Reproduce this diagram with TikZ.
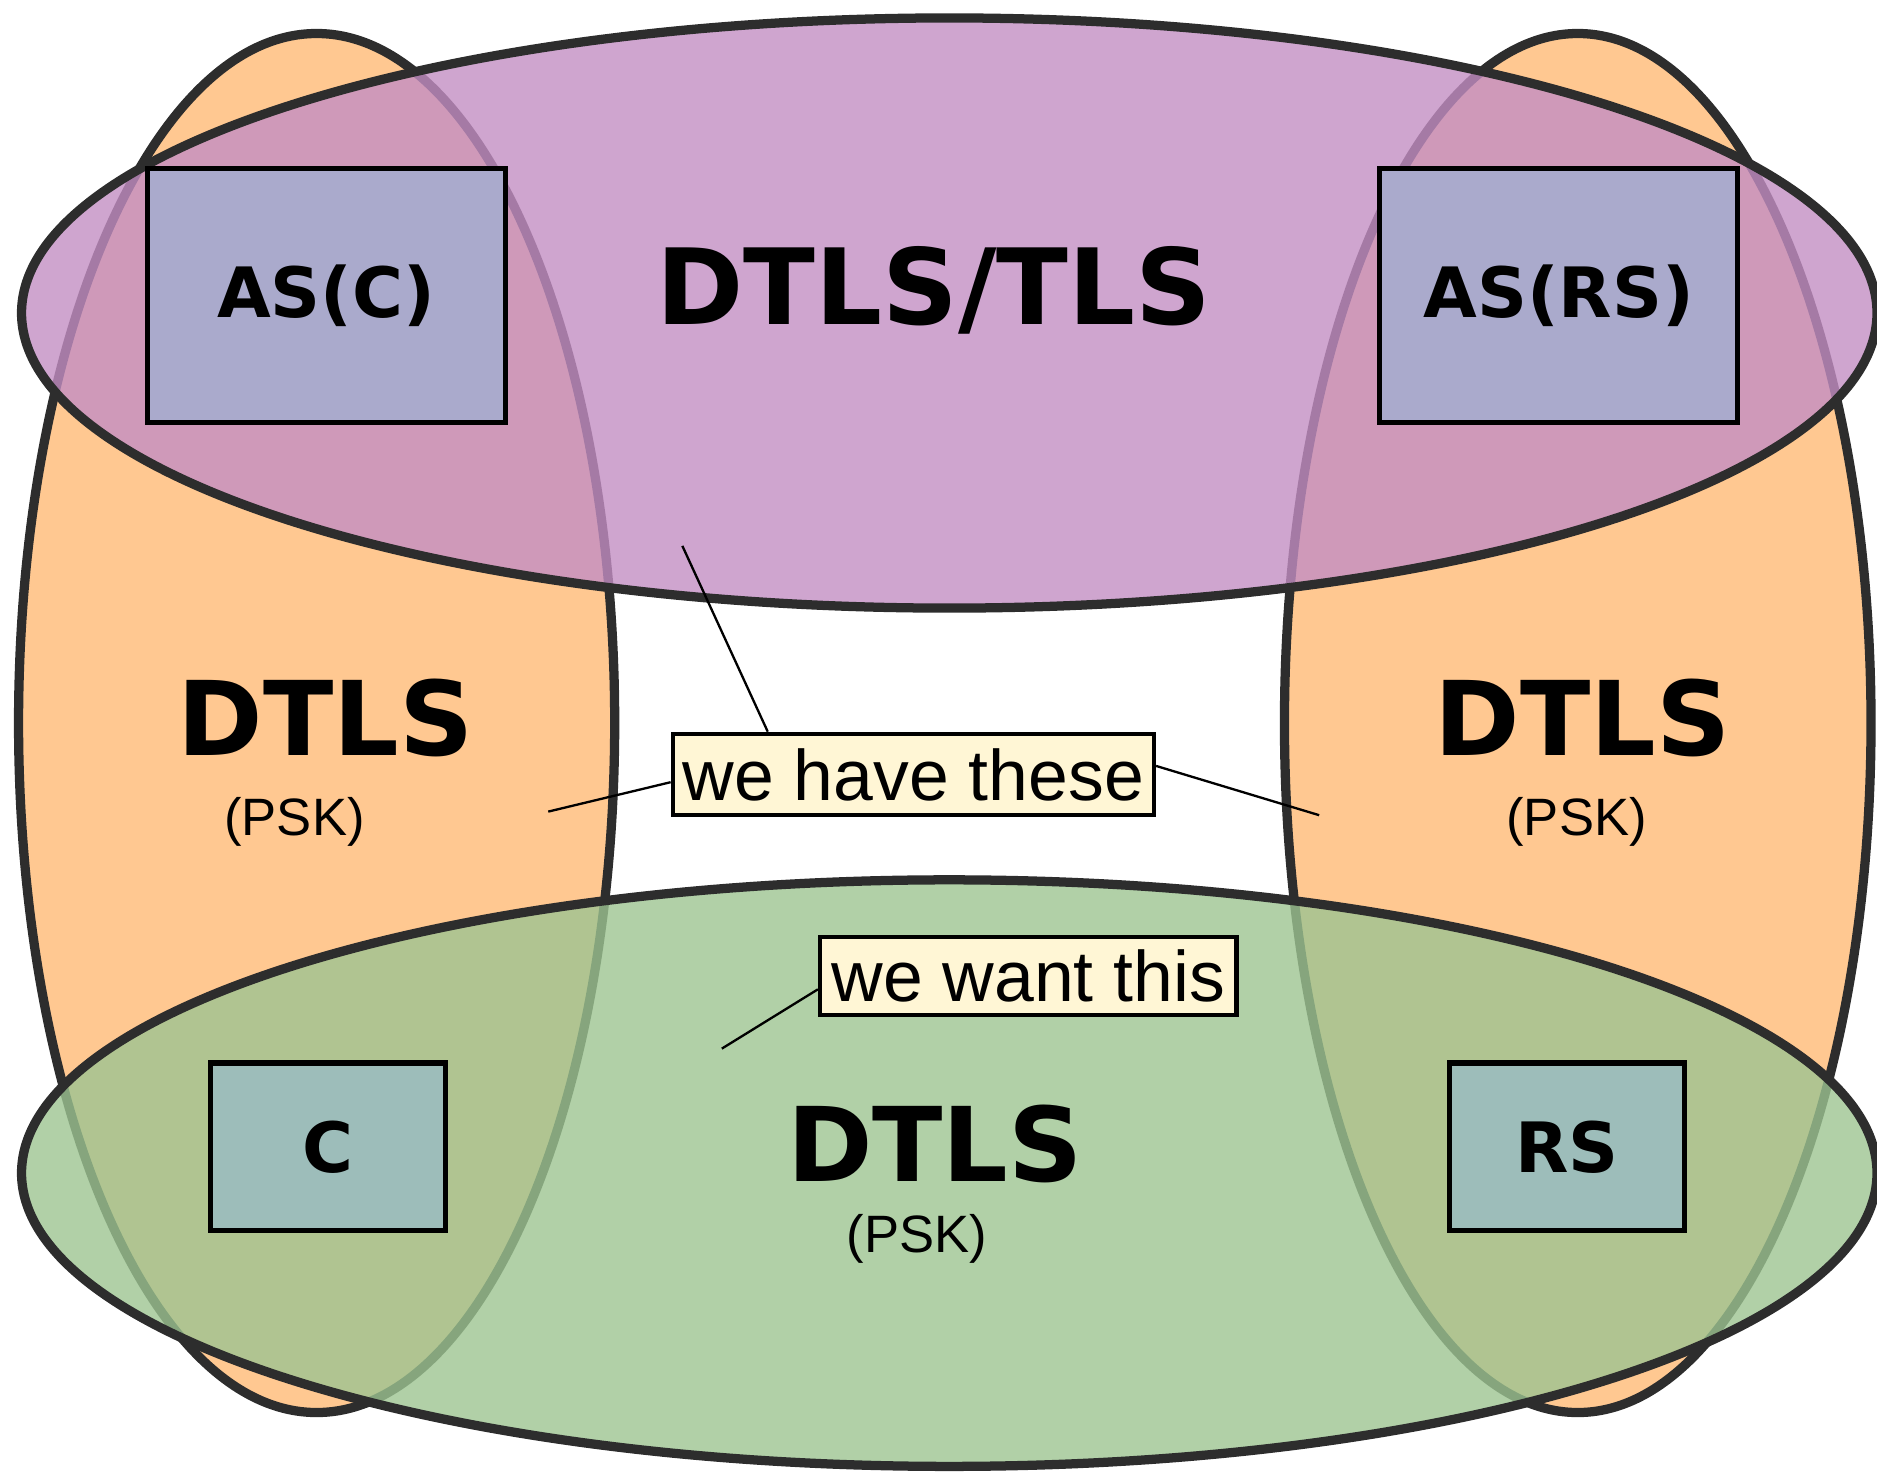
\documentclass[tikz,border=0pt]{standalone}
\usepackage{fontspec}
\setmainfont{Liberation Sans}
\newfontfamily\dejavu{DejaVu Sans}
\usetikzlibrary{calc}

\definecolor{lineDTLS}{RGB}{45,45,45}
\definecolor{orangeDTLS}{RGB}{255,200,145}
\definecolor{purpleDTLS}{RGB}{195,142,195}
\definecolor{greenDTLS}{RGB}{157,196,145}
\definecolor{blueAS}{RGB}{170,170,204}
\definecolor{tealRS}{RGB}{157,189,186}
\definecolor{creamNote}{RGB}{255,246,213}

\tikzset{
	ring/.style={draw=lineDTLS,line width=2.2pt},
	server/.style={draw=black,line width=1.2pt,font={\dejavu\bfseries\fontsize{16.5pt}{18pt}\selectfont}},
	big/.style={anchor=base,font={\dejavu\bfseries\fontsize{24.5pt}{28pt}\selectfont}},
	psk/.style={anchor=base,font={\fontsize{12.5pt}{14pt}\selectfont}},
	note/.style={draw=black,line width=1pt,fill=creamNote,inner sep=0pt,font={\fontsize{17pt}{19pt}\selectfont}},
	pointer/.style={black,line width=0.55pt}
}

\begin{document}
\begin{tikzpicture}
\useasboundingbox (0,0) rectangle (15.68,12.30);
%Ellipsen
\draw[ring,fill=orangeDTLS] (2.645,6.26) ellipse (2.49 and 5.76);
\draw[ring,fill=orangeDTLS] (13.18,6.26) ellipse (2.45 and 5.76);
\draw[ring,fill=purpleDTLS,fill opacity=0.8] (7.93,9.685) ellipse (7.75 and 2.465);
\draw[ring,fill=greenDTLS,fill opacity=0.8] (7.93,2.50) ellipse (7.75 and 2.45);
%Kaesten
\node[server,fill=blueAS,minimum width=2.99cm,minimum height=2.12cm] (asc) at (2.725,9.83) {AS(C)};
\node[server,fill=blueAS,minimum width=2.99cm,minimum height=2.12cm] (asrs) at (13.02,9.83) {AS(RS)};
\node[server,fill=tealRS,minimum width=1.96cm,minimum height=1.40cm] (c) at (2.74,2.72) {C};
\node[server,fill=tealRS,minimum width=1.96cm,minimum height=1.40cm] (rs) at (13.09,2.72) {RS};
%Texte
\node[big,font={\dejavu\bfseries\fontsize{25pt}{28pt}\selectfont}] (tls) at (7.80,9.59) {DTLS/TLS};
\node[big] (dtlsl) at (2.72,5.99) {DTLS};
\node[psk] (pskl) at (2.46,5.32) {(PSK)};
\node[big] (dtlsr) at (13.22,5.99) {DTLS};
\node[psk] (pskr) at (13.17,5.32) {(PSK)};
\node[big] (dtlsb) at (7.81,2.43) {DTLS};
\node[psk] (pskb) at (7.66,1.84) {(PSK)};
%Hinweise
\node[note,minimum width=4.02cm,minimum height=0.68cm] (have) at (7.63,5.83) {we have these};
\node[note,minimum width=3.48cm,minimum height=0.65cm] (want) at (8.59,4.145) {we want this};
\coordinate (haveTop) at (5.70,7.74);
\coordinate (haveLeft) at (4.58,5.52);
\coordinate (haveRight) at (11.02,5.49);
\coordinate (wantEnd) at (6.03,3.54);
\draw[pointer] ($(have.north west)!0.2!(have.north east)$)--(haveTop);
\draw[pointer] ($(have.north west)!0.59!(have.south west)$)--(haveLeft);
\draw[pointer] ($(have.north east)!0.4!(have.south east)$)--(haveRight);
\draw[pointer] ($(want.north west)!0.66!(want.south west)$)--(wantEnd);
\end{tikzpicture}
\end{document}
